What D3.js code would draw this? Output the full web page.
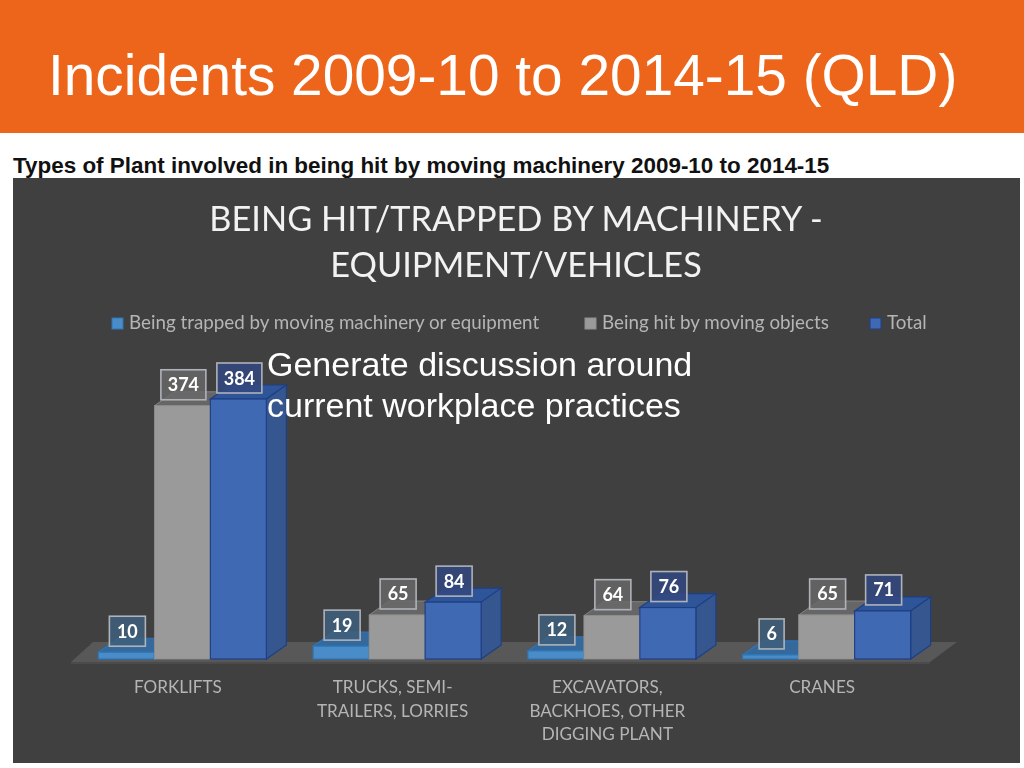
<!DOCTYPE html>
<html><head><meta charset="utf-8">
<script src="https://cdn.jsdelivr.net/npm/d3@7"></script>
<style>html,body{margin:0;padding:0;background:#fff;overflow:hidden}svg{display:block}</style>
</head><body><svg id="c" width="1024" height="768"></svg>
<script>
const slideTitle = "Incidents 2009-10 to 2014-15 (QLD)";
const subTitle = "Types of Plant involved in being hit by moving machinery 2009-10 to 2014-15";
const chartTitle = ["BEING HIT/TRAPPED BY MACHINERY -", "EQUIPMENT/VEHICLES"];
const overlay = ["Generate discussion around", "current workplace practices"];
const categories = ["FORKLIFTS", "TRUCKS, SEMI-TRAILERS, LORRIES", "EXCAVATORS, BACKHOES, OTHER DIGGING PLANT", "CRANES"];
const categoryLines = [["FORKLIFTS"], ["TRUCKS, SEMI-", "TRAILERS, LORRIES"], ["EXCAVATORS,", "BACKHOES, OTHER", "DIGGING PLANT"], ["CRANES"]];
const seriesNames = ["Being trapped by moving machinery or equipment", "Being hit by moving objects", "Total"];
const trapped = [10, 19, 12, 6];
const hit = [374, 65, 64, 65];
const total = [384, 84, 76, 71];
const seriesValues = [trapped, hit, total];
const fronts = ["#4a8cc8", "#9a9a9a", "#4169b4"];
const tops = ["#35699c", "#666666", "#2f5597"];
const sides = ["#2f5f8e", "#7c7c7c", "#34578f"];
const strokes = ["#2e75b6", "#8f8f8f", "#1f3f85"];
const labelFill = ["#3f5f7d", "#686868", "#34497f"];

const svg = d3.select("#c");
const sans = "'Liberation Sans',Arial,sans-serif";
const cal = "Lato,Carlito,sans-serif";
const W = 1024;

const defs = svg.append("defs");
defs.append("filter").attr("id", "soft").append("feGaussianBlur").attr("stdDeviation", 0.45);

svg.append("rect").attr("width", W).attr("height", 133).attr("fill", "#ec651a");
svg.append("text").text(slideTitle).attr("x", 48).attr("y", 95).attr("font-family", sans).attr("font-size", 56.8).attr("fill", "#fff");
svg.append("text").text(subTitle).attr("x", 13).attr("y", 173).attr("font-family", sans).attr("font-weight", "bold").attr("font-size", 22.45).attr("fill", "#111");
svg.append("rect").attr("x", 13).attr("y", 178).attr("width", 1007).attr("height", 585).attr("fill", "#404040");

const chart = svg.append("g").attr("filter", "url(#soft)");

chart.selectAll(".ct").data(chartTitle).join("text").attr("class", "ct").text(d => d)
  .attr("x", 516).attr("y", (d, i) => 231 + i * 46).attr("text-anchor", "middle")
  .attr("font-family", cal).attr("font-size", 34.3).attr("fill", "#f2f2f2");

// legend
const legendX = [112, 585, 870];
const lg = chart.selectAll(".lg").data(seriesNames).join("g").attr("class", "lg").attr("transform", (d, i) => `translate(${legendX[i]},318)`);
lg.append("rect").attr("width", 11).attr("height", 11).attr("fill", (d, i) => fronts[i]).attr("stroke", (d, i) => strokes[i]);
lg.append("text").text(d => d).attr("x", 17).attr("y", 11).attr("font-family", cal).attr("font-size", 18.8).attr("fill", "#b5b5b5");

// scales
const x0 = d3.scaleBand().domain(categories).range([71, 930]).paddingInner(0).paddingOuter(0);
const x1 = d3.scaleBand().domain(d3.range(3)).range([0, 168]);
const groupLeft = c => x0(c) + (x0.bandwidth() - 168) / 2 + 4;
const y = d3.scaleLinear().domain([0, 384]).range([659, 399]);
const dx = 20, dy = -14;

// floor
const floorPts = [[71, 662], [93, 642], [957, 642], [930, 662]];
chart.append("polygon").attr("points", floorPts.join(" ")).attr("fill", "#585858");
chart.append("rect").attr("x", 71).attr("y", 662).attr("width", 859).attr("height", 2).attr("fill", "#4c4c4c");

const bars = [];
categories.forEach((c, ci) => seriesValues.forEach((vals, si) => bars.push({c, si, v: vals[ci]})));
const g = chart.append("g");
bars.forEach(b => {
  const l = groupLeft(b.c) + x1(b.si), w = x1.bandwidth(), t = y(b.v), r = l + w, bt = y(0);
  const sw = b.si === 1 ? 0.8 : 1.2;
  g.append("polygon").attr("points", [[l, t], [l + dx, t + dy], [r + dx, t + dy], [r, t]].join(" "))
    .attr("fill", tops[b.si]).attr("stroke", strokes[b.si]).attr("stroke-width", sw);
  g.append("polygon").attr("points", [[r, t], [r + dx, t + dy], [r + dx, bt + dy], [r, bt]].join(" "))
    .attr("fill", sides[b.si]).attr("stroke", strokes[b.si]).attr("stroke-width", sw);
  g.append("rect").attr("x", l).attr("y", t).attr("width", w).attr("height", bt - t)
    .attr("fill", fronts[b.si]).attr("stroke", strokes[b.si]).attr("stroke-width", sw);
});
// labels
bars.forEach(b => {
  const cx = groupLeft(b.c) + x1(b.si) + x1.bandwidth() / 2 + 1, t = y(b.v);
  const str = String(b.v), bw = str.length === 1 ? 25 : str.length === 2 ? 36 : 45, bh = 30;
  g.append("rect").attr("x", cx - bw / 2).attr("y", t - 6 - bh).attr("width", bw).attr("height", bh)
    .attr("fill", labelFill[b.si]).attr("fill-opacity", 0.85).attr("stroke", "#aeb2b9").attr("stroke-width", 1.6);
  g.append("text").text(str).attr("x", cx).attr("y", t - 6 - bh / 2 + 6.5).attr("text-anchor", "middle")
    .attr("font-family", cal).attr("font-weight", "bold").attr("font-size", 18).attr("fill", "#fff");
});
// category labels
categories.forEach((c, i) => {
  categoryLines[i].forEach((ln, j) => {
    chart.append("text").text(ln).attr("x", groupLeft(c) + 84 - 4.5).attr("y", 693 + j * 23.5).attr("text-anchor", "middle")
      .attr("font-family", cal).attr("font-size", 17.1).attr("fill", "#b5b5b5");
  });
});
svg.selectAll(".ov").data(overlay).join("text").attr("class", "ov").text(d => d)
  .attr("x", 267).attr("y", (d, i) => 376 + i * 41).attr("font-family", sans).attr("font-size", 34).attr("fill", "#fff");
</script></body></html>
